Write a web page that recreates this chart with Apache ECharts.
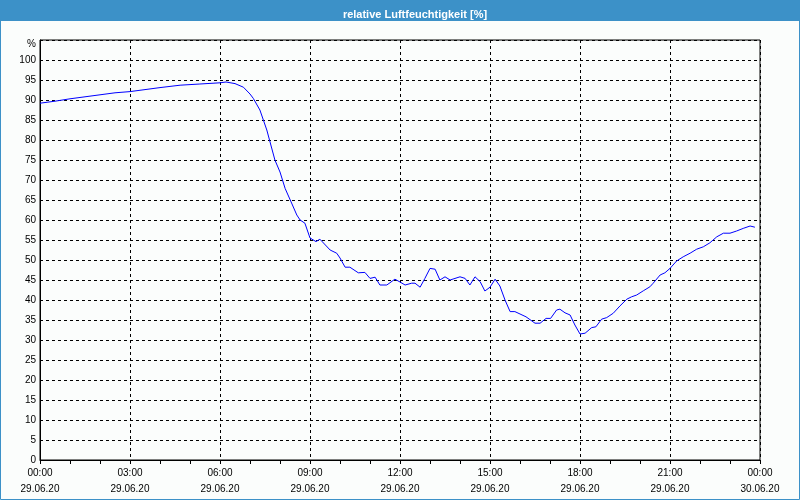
<!DOCTYPE html>
<html>
<head>
<meta charset="utf-8">
<script src="https://cdn.jsdelivr.net/npm/echarts@6/dist/echarts.min.js"></script>
<style>
html,body{margin:0;padding:0;background:#fbfdfc;}
#chart{width:800px;height:500px;}
</style>
</head>
<body>
<div id="chart"></div>
<script>
// Data (hours since 29.06.20 00:00, relative humidity in %)
const hours = [0,0.5,1,1.5,2,2.5,3,3.5,4,4.67,5.33,6.0,6.2,6.5,6.78,7.0,7.11,7.33,7.56,7.83,8.0,8.17,8.4,8.56,8.67,8.83,9.0,9.2,9.33,9.67,9.89,10.0,10.17,10.33,10.61,10.83,11.0,11.17,11.33,11.56,11.83,12.0,12.17,12.39,12.5,12.67,12.83,13.0,13.17,13.33,13.5,13.67,14.0,14.17,14.33,14.5,14.67,14.83,15.0,15.17,15.33,15.5,15.67,15.83,16.2,16.5,16.67,16.87,17.02,17.22,17.33,17.5,17.67,17.83,18.0,18.17,18.39,18.53,18.72,18.89,19.11,19.33,19.56,19.72,19.89,20.11,20.33,20.44,20.67,20.83,21.0,21.22,21.44,21.67,21.89,22.11,22.33,22.56,22.78,23.0,23.22,23.44,23.67,23.83];
const humidity = [89.2,89.7,90.3,90.8,91.3,91.8,92.1,92.6,93.1,93.7,94.0,94.3,94.5,94.1,93.2,91.5,90.4,87.5,82.5,75,72,67.9,64,61.25,60,59.2,55.5,54.6,55.2,52.5,51.7,50.5,48.2,48.2,46.8,46.9,45.4,45.7,43.75,43.75,45.2,44.5,43.75,44.2,44.2,43.2,45.4,47.9,47.7,45.0,45.8,45.0,45.8,45.4,43.75,45.8,44.6,42.25,43.2,45.2,43.5,40,37.1,37.1,35.8,34.2,34.2,35.4,35.4,37.5,37.7,36.8,36.25,33.75,31.5,31.7,33.1,33.3,35.2,35.6,36.7,38.5,40.2,40.8,41.25,42.3,43.3,44.2,46.25,46.8,47.9,49.75,50.8,51.7,52.7,53.3,54.3,55.8,56.7,56.7,57.25,57.9,58.5,58.2];
const timeLabels = ['00:00','03:00','06:00','09:00','12:00','15:00','18:00','21:00','00:00'];
const dateLabels = ['29.06.20','29.06.20','29.06.20','29.06.20','29.06.20','29.06.20','29.06.20','29.06.20','30.06.20'];
const titleText = 'relative Luftfeuchtigkeit [%]';
const unitLabel = '%';

const FONT = '"Liberation Sans", Arial, sans-serif';
const chart = echarts.init(document.getElementById('chart'), null, {renderer: 'canvas'});
chart.setOption({
  backgroundColor: '#fbfdfc',
  animation: false,
  graphic: [
    {type: 'rect', z: -10, shape: {x: 0, y: 0, width: 800, height: 21}, style: {fill: '#3c91c8'}},
    {type: 'rect', z: -10, shape: {x: 0.5, y: 0.5, width: 799, height: 499}, style: {fill: null, stroke: '#3c91c8', lineWidth: 1}}
  ],
  title: {
    text: titleText,
    left: 410, top: 4,
    textAlign: 'center',
    textStyle: {color: '#ffffff', fontFamily: FONT, fontSize: 11, fontWeight: 'bold'}
  },
  grid: {left: 40, right: 40, top: 40, bottom: 40, show: true, borderColor: '#000', borderWidth: 1},
  xAxis: {
    type: 'value', min: 0, max: 24, interval: 3,
    axisLine: {show: true, lineStyle: {color: '#000', width: 1}},
    axisTick: {show: true, inside: false, length: 4, lineStyle: {color: '#000'}},
    minorTick: {show: true, splitNumber: 3, length: 4, lineStyle: {color: '#000'}},
    splitLine: {show: true, lineStyle: {color: '#000', type: [3, 3], width: 1}},
    axisLabel: {
      margin: 5, color: '#000', fontFamily: FONT, fontSize: 10, lineHeight: 16,
      showMinLabel: true, showMaxLabel: true,
      formatter: function (v) { const i = Math.round(v / 3); return timeLabels[i] + '\n' + dateLabels[i]; }
    }
  },
  yAxis: {
    type: 'value', min: 0, max: 105, interval: 5,
    axisLine: {show: true, lineStyle: {color: '#000', width: 1}},
    axisTick: {show: false},
    splitLine: {show: true, lineStyle: {color: '#000', type: [3, 3], width: 1}},
    axisLabel: {
      margin: 4, color: '#000', fontFamily: FONT, fontSize: 10,
      showMaxLabel: true,
      formatter: function (v) { return v === 105 ? '{u|' + unitLabel + '}' : String(v); },
      rich: {u: {color: '#000', fontFamily: FONT, fontSize: 10, padding: [8, 0, 0, 0]}}
    }
  },
  series: [{
    type: 'line',
    data: hours.map((h, i) => [h, humidity[i]]),
    symbol: 'none',
    smooth: false,
    lineStyle: {color: '#0000ff', width: 1},
    itemStyle: {color: '#0000ff'}
  }]
});
</script>
</body>
</html>
